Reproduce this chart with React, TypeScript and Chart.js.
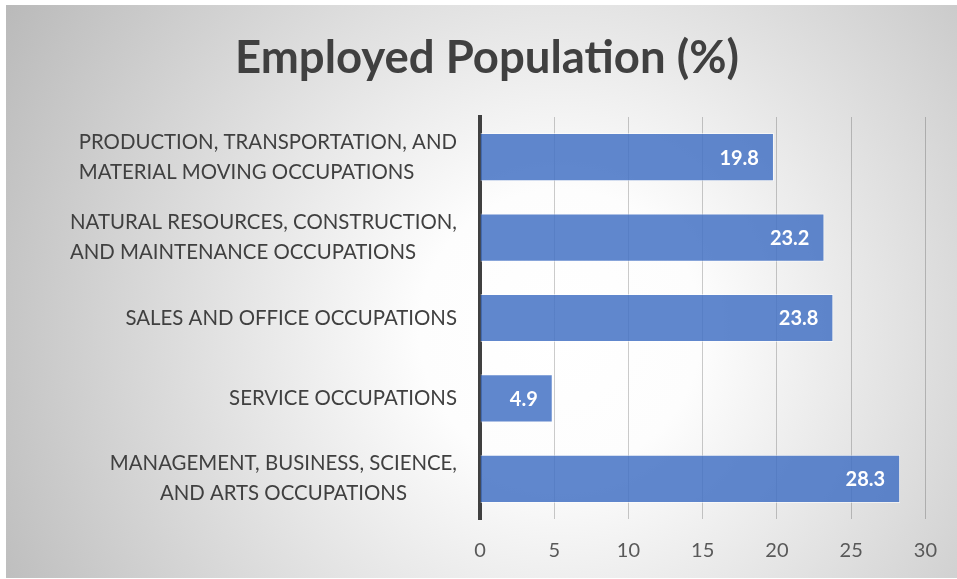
import React, { useEffect, useRef } from 'react';
import { Chart, registerables } from 'chart.js';

Chart.register(...registerables);

const chartTitle = 'Employed Population (%)';

const categories: string[][] = [
  ['PRODUCTION, TRANSPORTATION, AND', 'MATERIAL MOVING OCCUPATIONS'],
  ['NATURAL RESOURCES, CONSTRUCTION,', 'AND MAINTENANCE OCCUPATIONS'],
  ['SALES AND OFFICE OCCUPATIONS'],
  ['SERVICE OCCUPATIONS'],
  ['MANAGEMENT, BUSINESS, SCIENCE,', 'AND ARTS OCCUPATIONS'],
];

const employedPct: number[] = [19.8, 23.2, 23.8, 4.9, 28.3];

const xTickValues: number[] = [0, 5, 10, 15, 20, 25, 30];

// how the lines of each wrapped category label sit against each other
const labelLineAlign = ['left', 'left', 'left', 'left', 'center'];

const FONT = 'Lato, "Open Sans", sans-serif';

const backgroundPlugin = {
  id: 'bgGradient',
  beforeDraw(chart: any) {
    const { ctx, width, height } = chart;
    ctx.save();
    ctx.fillStyle = '#ffffff';
    ctx.fillRect(0, 0, width, height);
    const g = ctx.createRadialGradient(560, 330, 0, 560, 330, 640);
    g.addColorStop(0, '#ffffff');
    g.addColorStop(0.22, '#fdfdfd');
    g.addColorStop(1, '#bababa');
    ctx.fillStyle = g;
    ctx.fillRect(6, 5, width - 6, height - 6);
    ctx.restore();
  },
};

const categoryLabelPlugin = {
  id: 'categoryLabels',
  afterDraw(chart: any) {
    const { ctx } = chart;
    const scale = chart.scales.y;
    ctx.save();
    ctx.font = `20.4px ${FONT}`;
    ctx.fillStyle = '#404040';
    ctx.textBaseline = 'middle';
    const lineH = 30;
    const rightX = scale.right - 23;
    categories.forEach((lines, i) => {
      const cy = scale.getPixelForValue(i);
      const widest = Math.max(...lines.map((l) => ctx.measureText(l).width));
      lines.forEach((line, j) => {
        const ly = cy + (j - (lines.length - 1) / 2) * lineH;
        if (labelLineAlign[i] === 'center') {
          ctx.textAlign = 'center';
          ctx.fillText(line, rightX - widest / 2, ly);
        } else {
          ctx.textAlign = 'left';
          ctx.fillText(line, rightX - widest, ly);
        }
      });
    });
    ctx.restore();
  },
};

const valueLabelPlugin = {
  id: 'valueLabels',
  afterDatasetsDraw(chart: any) {
    const { ctx } = chart;
    const meta = chart.getDatasetMeta(0);
    const data = chart.data.datasets[0].data as number[];
    ctx.save();
    ctx.font = `bold 20px ${FONT}`;
    ctx.fillStyle = '#ffffff';
    ctx.textAlign = 'right';
    ctx.textBaseline = 'middle';
    meta.data.forEach((bar: any, i: number) => {
      ctx.fillText(data[i].toFixed(1), bar.x - 15, bar.y + 1);
    });
    ctx.restore();
  },
};

export default function App() {
  const canvasRef = useRef<HTMLCanvasElement | null>(null);

  useEffect(() => {
    if (!canvasRef.current) return;
    const chart = new Chart(canvasRef.current, {
      type: 'bar',
      data: {
        labels: categories.map((c) => c.join(' ')),
        datasets: [
          {
            label: chartTitle,
            data: employedPct,
            backgroundColor: 'rgba(68,114,196,0.85)',
            borderColor: 'rgba(255,255,255,0.55)',
            borderWidth: 1,
            barPercentage: 0.6,
            categoryPercentage: 1,
          },
        ],
      },
      options: {
        indexAxis: 'y',
        responsive: false,
        animation: false,
        devicePixelRatio: 1,
        layout: { padding: { left: 17, right: 0, top: 0, bottom: 0 } },
        plugins: {
          legend: { display: false },
          tooltip: { enabled: false },
          title: {
            display: true,
            text: chartTitle,
            color: '#404040',
            font: { family: FONT, size: 45.5, weight: 'bold', lineHeight: 1.2 },
            padding: { top: 31, bottom: 31.4 },
          },
        },
        scales: {
          x: {
            type: 'linear',
            min: xTickValues[0],
            max: xTickValues[xTickValues.length - 1],
            ticks: {
              stepSize: xTickValues[1] - xTickValues[0],
              color: '#595959',
              font: { family: FONT, size: 20 },
              padding: 20,
            },
            grid: { color: 'rgba(0,0,0,0.2)', lineWidth: 1, drawTicks: false },
            border: { display: false },
            afterFit(scale: any) {
              scale.height = 60;
            },
          },
          y: {
            type: 'category',
            ticks: { display: false },
            grid: { display: false },
            border: { display: true, color: '#404040', width: 4 },
            afterFit(scale: any) {
              scale.width = 463;
            },
          },
          yRight: {
            type: 'category',
            position: 'right',
            display: true,
            ticks: { display: false },
            grid: { display: false },
            border: { display: false },
            afterFit(scale: any) {
              scale.width = 31;
            },
          },
        },
      },
      plugins: [backgroundPlugin, categoryLabelPlugin, valueLabelPlugin],
    });
    return () => chart.destroy();
  }, []);

  return (
    <div style={{ position: 'absolute', left: 0, top: 0, width: 957, height: 579 }}>
      <canvas ref={canvasRef} width={957} height={579} />
    </div>
  );
}
